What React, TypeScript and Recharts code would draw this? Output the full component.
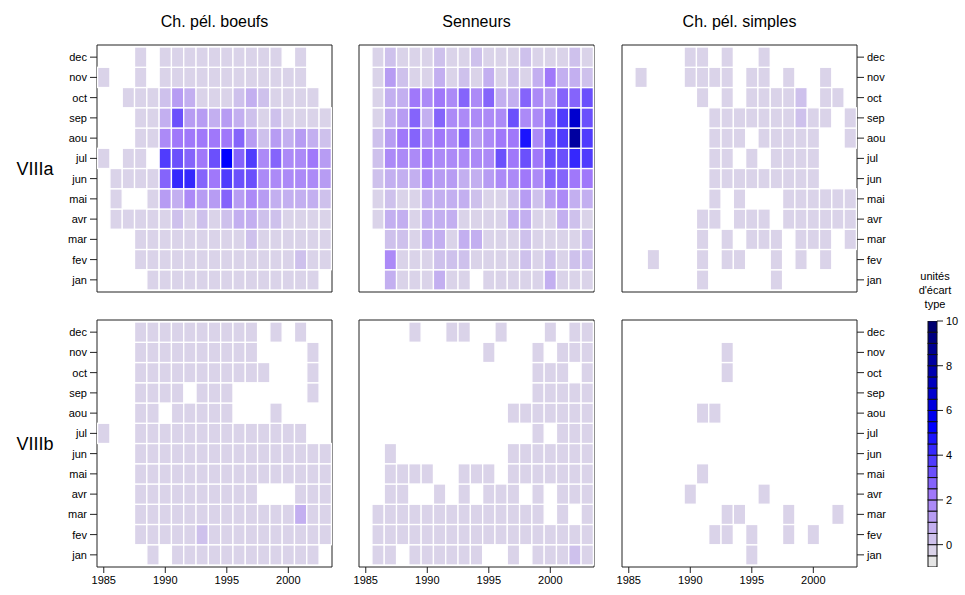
import { ReferenceArea, Scatter, ScatterChart, XAxis, YAxis } from "recharts";

const FONT = '"Liberation Sans", Arial, Helvetica, sans-serif';

const years = [
  1985, 1986, 1987, 1988, 1989, 1990, 1991, 1992, 1993, 1994, 1995, 1996, 1997,
  1998, 1999, 2000, 2001, 2002, 2003,
];
const months = ["jan", "fev", "mar", "avr", "mai", "jun", "jul", "aou", "sep", "oct", "nov", "dec"];
const monthTicks = [1, 2, 3, 4, 5, 6, 7, 8, 9, 10, 11, 12];
const yearTicks = [1985, 1990, 1995, 2000];
const gears = ["Ch. pél. boeufs", "Senneurs", "Ch. pél. simples"];
const areas = ["VIIIa", "VIIIb"];

// colour key: level breaks and labelled ticks
const keyLevels = [
  -1, -0.5, 0, 0.5, 1, 1.5, 2, 2.5, 3, 3.5, 4, 4.5, 5, 5.5, 6, 6.5, 7, 7.5, 8, 8.5, 9, 9.5, 10,
];
const keyTicks = [0, 2, 4, 6, 8, 10];
const keyTitle = ["unités", "d'écart", "type"];

// standardised landings, rows jan -> dec, columns 1985 -> 2003 (null = no data)
const _ = null;

const boeufsVIIIa = [
  [_, _, _, _, -.3, -.3, -.3, -.3, -.3, -.3, -.3, -.3, -.3, -.3, -.3, -.3, -.3, -.3, _],
  [_, _, _, -.3, -.3, -.3, -.3, -.3, -.3, -.3, -.3, -.3, -.3, -.3, -.3, -.3, .3, -.3, -.3],
  [_, _, _, -.3, -.3, -.3, -.3, -.3, -.3, -.3, -.3, -.3, .3, -.3, -.3, -.3, -.3, -.3, -.3],
  [_, -.3, -.3, -.3, -.3, -.3, .3, -.3, .3, -.3, .3, .8, .8, .3, .3, -.3, -.3, -.3, -.3],
  [_, -.3, _, _, -.3, 1.2, .9, 1.5, 1.1, 1.1, 2.6, 1.1, 1.8, 1.1, .9, .8, .9, .5, .4],
  [_, -.3, -.3, -.3, -.3, 2.5, 4.4, 4.3, 2.5, 2.2, 3.9, 3.0, 3.4, 1.7, 1.5, 1.7, 1.9, 1.5, 1.3],
  [-.3, _, -.3, -.3, _, 3.7, 3.0, 2.9, 2.1, 3.0, 5.2, 2.9, 3.7, 1.6, 2.8, 1.6, 1.7, 2.4, 1.4],
  [_, _, _, -.3, -.3, 1.6, 2.2, 2.1, 2.0, 2.3, 2.2, 2.6, 1.3, .4, 1.3, .8, 1.0, .9, .3],
  [_, _, _, -.3, -.3, .8, 3.2, 1.4, 1.0, .6, 1.3, .9, .4, -.3, .2, -.3, -.3, -.3, -.3],
  [_, _, -.3, -.3, -.3, .3, 1.3, .6, -.3, -.3, -.3, .3, .8, .4, -.3, -.3, -.3, -.3, _],
  [-.3, _, _, -.3, _, -.3, -.3, -.3, -.3, -.3, -.3, -.3, -.3, -.3, -.3, -.3, -.3, _, _],
  [_, _, _, -.3, _, -.3, -.3, -.3, -.3, -.3, -.3, -.3, -.3, -.3, -.3, _, -.3, _, _],
];

const senneursVIIIa = [
  [_, _, .5, -.3, -.3, -.3, .8, -.3, -.3, _, -.3, -.3, -.3, -.3, -.3, .8, -.3, -.3, -.3],
  [_, _, 1.6, -.3, -.3, -.3, .4, .4, .4, -.3, -.3, -.3, -.3, .4, -.3, .4, -.3, .4, .4],
  [_, _, .4, .4, -.3, .5, .8, -.3, .8, .8, -.3, -.3, -.3, .4, -.3, -.3, -.3, -.3, .4],
  [_, -.3, .5, .7, -.3, .8, .5, .5, -.3, -.3, -.3, -.3, .5, .8, -.3, -.3, .5, .4, -.3],
  [_, -.3, .2, -.3, -.3, .8, .9, .5, .8, .4, -.3, -.3, .4, 1.0, .4, 1.4, 1.6, .9, .5],
  [_, .3, .7, .7, .6, 1.8, 1.0, 1.1, .9, .7, 1.1, 1.6, 1.8, 2.0, 1.6, 2.5, 2.6, 2.3, 2.3],
  [_, .4, 1.6, 1.6, 1.6, 2.0, 1.9, 1.6, 1.9, 1.5, 1.9, 3.0, 2.3, 3.3, 2.3, 3.1, 3.3, 4.1, 3.8],
  [_, .4, 1.3, 2.2, 2.6, 1.8, 2.2, 1.5, 2.5, 1.4, 1.9, 2.0, 2.4, 4.5, 1.9, 3.3, 3.9, 8.3, 3.8],
  [_, -.3, .8, 1.4, 2.7, .9, 2.5, 1.5, 1.6, 1.8, 1.5, 1.9, 3.1, 1.9, 1.5, 2.5, 3.9, 6.8, 3.2],
  [_, -.3, .8, .9, 2.4, 1.8, 2.4, 1.9, 2.5, 1.9, 2.7, .9, .8, 2.5, 1.8, 1.3, 2.5, 2.8, 3.2],
  [_, -.3, 1.1, .3, -.3, -.3, .7, -.3, .3, -.3, .8, -.3, .3, -.3, .7, 2.0, .7, .7, .3],
  [_, -.3, .3, -.3, -.3, -.3, .3, -.3, -.3, .3, -.3, -.3, -.3, .2, -.3, -.3, -.3, .3, -.3],
];

const simplesVIIIa = [
  [_, _, _, _, _, _, -.3, _, _, _, _, _, -.3, _, _, _, _, _, _],
  [_, _, -.3, _, _, _, -.3, _, -.3, -.3, _, _, -.3, _, -.3, _, -.3, _, _],
  [_, _, _, _, _, _, -.3, _, -.3, _, -.3, -.3, -.3, _, -.3, -.3, -.3, _, -.3],
  [_, _, _, _, _, _, -.3, -.3, _, -.3, -.3, -.3, _, -.3, -.3, -.3, -.3, -.3, -.3],
  [_, _, _, _, _, _, _, -.3, _, -.3, _, _, _, -.3, -.3, -.3, -.3, -.3, -.3],
  [_, _, _, _, _, _, _, -.3, -.3, -.3, -.3, -.3, -.3, -.3, -.3, -.3, _, _, _],
  [_, _, _, _, _, _, _, -.3, -.3, _, -.3, _, -.3, -.3, -.3, -.3, _, _, _],
  [_, _, _, _, _, _, _, -.3, -.3, -.3, _, -.3, -.3, -.3, -.3, -.3, _, _, -.3],
  [_, _, _, _, _, _, _, -.3, -.3, -.3, -.3, -.3, -.3, -.3, .3, -.3, -.3, _, -.3],
  [_, _, _, _, _, _, -.3, _, -.3, _, -.3, -.3, -.3, -.3, .3, _, -.3, -.3, _],
  [_, -.3, _, _, _, -.3, -.3, -.3, -.3, _, -.3, -.3, _, -.3, _, _, -.3, _, _],
  [_, _, _, _, _, -.3, -.3, _, -.3, _, _, -.3, _, _, _, _, _, _, _],
];

const boeufsVIIIb = [
  [_, _, _, _, -.3, _, -.3, -.3, -.3, -.3, -.3, -.3, -.3, -.3, -.3, -.3, -.3, -.3, _],
  [_, _, _, -.3, -.3, -.3, -.3, -.3, .4, -.3, -.3, -.3, -.3, -.3, -.3, -.3, -.3, -.3, -.3],
  [_, _, _, -.3, -.3, -.3, -.3, -.3, -.3, -.3, -.3, -.3, -.3, -.3, -.3, -.3, .7, -.3, -.3],
  [_, _, _, -.3, -.3, -.3, -.3, -.3, -.3, -.3, -.3, -.3, -.3, _, _, _, -.3, -.3, -.3],
  [_, _, _, -.3, -.3, -.3, -.3, -.3, -.3, -.3, -.3, -.3, -.3, -.3, -.3, -.3, -.3, -.3, -.3],
  [_, _, _, -.3, -.3, -.3, -.3, -.3, -.3, -.3, -.3, -.3, -.3, -.3, -.3, -.3, -.3, -.3, -.3],
  [-.3, _, _, -.3, -.3, -.3, -.3, -.3, -.3, -.3, -.3, -.3, -.3, -.3, -.3, -.3, -.3, _, _],
  [_, _, _, -.3, -.3, _, -.3, -.3, -.3, -.3, -.3, _, _, _, -.3, _, _, _, _],
  [_, _, _, -.3, -.3, -.3, -.3, _, -.3, -.3, -.3, _, _, _, _, _, _, -.3, _],
  [_, _, _, -.3, -.3, -.3, -.3, -.3, -.3, -.3, -.3, -.3, -.3, -.3, _, _, _, -.3, _],
  [_, _, _, -.3, -.3, -.3, -.3, -.3, -.3, -.3, -.3, -.3, -.3, _, _, _, _, -.3, _],
  [_, _, _, -.3, -.3, -.3, -.3, -.3, -.3, -.3, -.3, -.3, -.3, _, -.3, _, -.3, _, _],
];

const senneursVIIIb = [
  [_, -.3, -.3, _, -.3, -.3, -.3, -.3, -.3, -.3, _, _, -.3, _, -.3, -.3, -.3, .3, -.3],
  [_, -.3, -.3, -.3, -.3, -.3, -.3, -.3, -.3, -.3, -.3, -.3, -.3, -.3, -.3, -.3, -.3, -.3, -.3],
  [_, -.3, -.3, -.3, -.3, -.3, -.3, -.3, -.3, -.3, -.3, -.3, -.3, -.3, -.3, _, -.3, _, -.3],
  [_, _, -.3, -.3, _, _, -.3, _, -.3, _, -.3, -.3, -.3, _, -.3, _, -.3, -.3, -.3],
  [_, _, -.3, -.3, -.3, -.3, _, _, -.3, -.3, -.3, _, -.3, -.3, -.3, -.3, -.3, -.3, -.3],
  [_, _, -.3, _, _, _, _, _, _, _, _, _, -.3, -.3, -.3, -.3, -.3, -.3, -.3],
  [_, _, _, _, _, _, _, _, _, _, _, _, _, _, -.3, _, -.3, -.3, -.3],
  [_, _, _, _, _, _, _, _, _, _, _, _, -.3, -.3, -.3, -.3, -.3, -.3, -.3],
  [_, _, _, _, _, _, _, _, _, _, _, _, _, _, -.3, -.3, -.3, -.3, -.3],
  [_, _, _, _, _, _, _, _, _, _, _, _, _, _, -.3, -.3, -.3, _, -.3],
  [_, _, _, _, _, _, _, _, _, _, -.3, _, _, _, -.3, _, -.3, -.3, -.3],
  [_, _, _, _, -.3, _, _, -.3, -.3, _, _, -.3, _, _, _, -.3, _, -.3, -.3],
];

const simplesVIIIb = [
  [_, _, _, _, _, _, _, _, _, _, -.3, _, _, _, _, _, _, _, _],
  [_, _, _, _, _, _, _, -.3, -.3, _, -.3, _, _, -.3, _, -.3, _, _, _],
  [_, _, _, _, _, _, _, _, -.3, -.3, _, _, _, -.3, _, _, _, -.3, _],
  [_, _, _, _, _, -.3, _, _, _, _, _, -.3, _, _, _, _, _, _, _],
  [_, _, _, _, _, _, -.3, _, _, _, _, _, _, _, _, _, _, _, _],
  [_, _, _, _, _, _, _, _, _, _, _, _, _, _, _, _, _, _, _],
  [_, _, _, _, _, _, _, _, _, _, _, _, _, _, _, _, _, _, _],
  [_, _, _, _, _, _, -.3, -.3, _, _, _, _, _, _, _, _, _, _, _],
  [_, _, _, _, _, _, _, _, _, _, _, _, _, _, _, _, _, _, _],
  [_, _, _, _, _, _, _, _, -.3, _, _, _, _, _, _, _, _, _, _],
  [_, _, _, _, _, _, _, _, -.3, _, _, _, _, _, _, _, _, _, _],
  [_, _, _, _, _, _, _, _, _, _, _, _, _, _, _, _, _, _, _],
];

const grid = [
  [boeufsVIIIa, senneursVIIIa, simplesVIIIa],
  [boeufsVIIIb, senneursVIIIb, simplesVIIIb],
];

// one colour per key band: grey -> violet -> blue -> navy
const bandColors = [
  "#e5e5e5", "#dad3e9", "#cec1ec", "#c3aff0", "#b79cf3", "#ac8af7", "#a078fa", "#8564fb",
  "#6b50fc", "#503cfd", "#3528fd", "#1b14fe", "#0000ff", "#0000ef", "#0000df", "#0000cf",
  "#0000bf", "#0000b0", "#0000a0", "#000090", "#000080", "#000070",
];

function colorFor(v: number) {
  for (let i = 0; i < keyLevels.length - 1; i++) {
    if (v < keyLevels[i + 1]) return bandColors[i];
  }
  return bandColors[bandColors.length - 1];
}

// panel geometry (plot boxes in page pixels)
const X_DOMAIN: [number, number] = [1984.45, 2003.55];
const Y_DOMAIN: [number, number] = [0.4, 12.6];
const PLOT_W = 235;
const PLOT_H = 247;
const COL_X = [97, 359, 622];
const ROW_Y = [45, 320];
const CELL_W = PLOT_W / (X_DOMAIN[1] - X_DOMAIN[0]);
const CELL_H = PLOT_H / (Y_DOMAIN[1] - Y_DOMAIN[0]);

const KEY_X = 928;
const KEY_Y = 321;
const KEY_W = 9;
const KEY_H = 246;
const KEY_DOMAIN: [number, number] = [-1, 10];
const KEY_BAND_H = (KEY_H / (KEY_DOMAIN[1] - KEY_DOMAIN[0])) * 0.5;

const tickStyle = { fill: "#000", fontSize: 11, fontFamily: FONT };
const noLabel = () => "";

function toPoints(rows: (number | null)[][]) {
  const pts: { year: number; month: number; v: number }[] = [];
  rows.forEach((row, m) =>
    row.forEach((v, i) => {
      if (v !== null) pts.push({ year: years[i], month: m + 1, v });
    }),
  );
  return pts;
}

function CellRect(props: any) {
  const { cx, cy, payload } = props;
  return (
    <rect
      x={cx - CELL_W / 2}
      y={cy - CELL_H / 2}
      width={CELL_W}
      height={CELL_H}
      fill={colorFor(payload.v)}
      stroke="#fff"
      strokeWidth={1.3}
    />
  );
}

function KeyRect(props: any) {
  const { cx, cy, payload } = props;
  return (
    <rect
      x={cx - KEY_W / 2}
      y={cy - KEY_BAND_H / 2}
      width={KEY_W}
      height={KEY_BAND_H}
      fill={payload.color}
      stroke="#111"
      strokeWidth={1}
    />
  );
}

function Panel({ rows, row, col }: { rows: (number | null)[][]; row: number; col: number }) {
  const m = 2;
  // extra room on the sides so the outer year labels are not clipped
  const leftW = col === 0 ? 40 : 14;
  const rightW = col === 2 ? 40 : 14;
  const bottomH = row === 1 ? 30 : 0;
  return (
    <div style={{ position: "absolute", left: COL_X[col] - leftW - m, top: ROW_Y[row] - m }}>
      <ScatterChart
        width={PLOT_W + leftW + rightW + 2 * m}
        height={PLOT_H + bottomH + 2 * m}
        margin={{
          top: m,
          bottom: m,
          left: col === 0 ? m : m + leftW,
          right: col === 2 ? m : m + rightW,
        }}
      >
        {/* short yearly ticks inside the top border */}
        <XAxis
          xAxisId="minorTop"
          type="number"
          dataKey="year"
          domain={X_DOMAIN}
          allowDataOverflow
          ticks={years}
          interval={0}
          orientation="top"
          mirror
          height={0}
          axisLine={false}
          tickSize={2}
          tickFormatter={noLabel}
          tickLine={{ stroke: "#333" }}
          tick={tickStyle}
        />
        <XAxis
          type="number"
          dataKey="year"
          domain={X_DOMAIN}
          allowDataOverflow
          ticks={yearTicks}
          interval={0}
          hide={row === 0}
          height={bottomH}
          axisLine={false}
          tickSize={6}
          tickMargin={3}
          tickLine={{ stroke: "#222" }}
          tick={tickStyle}
        />
        <YAxis
          type="number"
          dataKey="month"
          domain={Y_DOMAIN}
          allowDataOverflow
          ticks={monthTicks}
          interval={0}
          tickFormatter={(v: number) => months[v - 1]}
          hide={col === 1}
          orientation={col === 2 ? "right" : "left"}
          width={40}
          axisLine={false}
          tickSize={7}
          tickMargin={3}
          tickLine={{ stroke: "#222" }}
          tick={tickStyle}
        />
        <Scatter data={toPoints(rows)} shape={CellRect} isAnimationActive={false} />
        <ReferenceArea
          x1={X_DOMAIN[0]}
          x2={X_DOMAIN[1]}
          y1={Y_DOMAIN[0]}
          y2={Y_DOMAIN[1]}
          fill="none"
          stroke="#222"
          strokeWidth={1}
          ifOverflow="visible"
        />
      </ScatterChart>
    </div>
  );
}

function ColorKey() {
  const bands = bandColors.map((color, i) => ({
    x: 0.5,
    y: (keyLevels[i] + keyLevels[i + 1]) / 2,
    color,
  }));
  const mt = 8;
  return (
    <div style={{ position: "absolute", left: KEY_X - 2, top: KEY_Y - mt }}>
      <ScatterChart
        width={KEY_W + 30 + 4}
        height={KEY_H + 2 * mt}
        margin={{ top: mt, right: 2, bottom: mt, left: 2 }}
      >
        <XAxis type="number" dataKey="x" domain={[0, 1]} hide />
        <YAxis
          type="number"
          dataKey="y"
          domain={KEY_DOMAIN}
          allowDataOverflow
          ticks={keyTicks}
          interval={0}
          orientation="right"
          width={30}
          axisLine={false}
          tickSize={6}
          tickMargin={3}
          tickLine={{ stroke: "#222" }}
          tick={tickStyle}
        />
        <Scatter data={bands} shape={KeyRect} isAnimationActive={false} />
      </ScatterChart>
    </div>
  );
}

function Label({ x, y, size, children }: { x: number; y: number; size: number; children: string }) {
  return (
    <div
      style={{
        position: "absolute",
        left: x,
        top: y,
        transform: "translate(-50%, -50%)",
        fontSize: size,
        lineHeight: 1,
        whiteSpace: "nowrap",
        color: "#000",
      }}
    >
      {children}
    </div>
  );
}

export default function App() {
  return (
    <div
      style={{
        position: "absolute",
        left: 0,
        top: 0,
        width: 965,
        height: 595,
        background: "#fff",
        fontFamily: FONT,
        overflow: "hidden",
      }}
    >
      {gears.map((g, c) => (
        <Label key={g} x={COL_X[c] + PLOT_W / 2} y={22} size={16}>
          {g}
        </Label>
      ))}
      {areas.map((a, r) => (
        <Label key={a} x={35} y={ROW_Y[r] + PLOT_H / 2} size={18}>
          {a}
        </Label>
      ))}
      {keyTitle.map((t, i) => (
        <Label key={t} x={935} y={276 + i * 14} size={11}>
          {t}
        </Label>
      ))}
      {grid.map((cols, r) =>
        cols.map((rows, c) => <Panel key={`${r}-${c}`} rows={rows} row={r} col={c} />),
      )}
      <ColorKey />
    </div>
  );
}
